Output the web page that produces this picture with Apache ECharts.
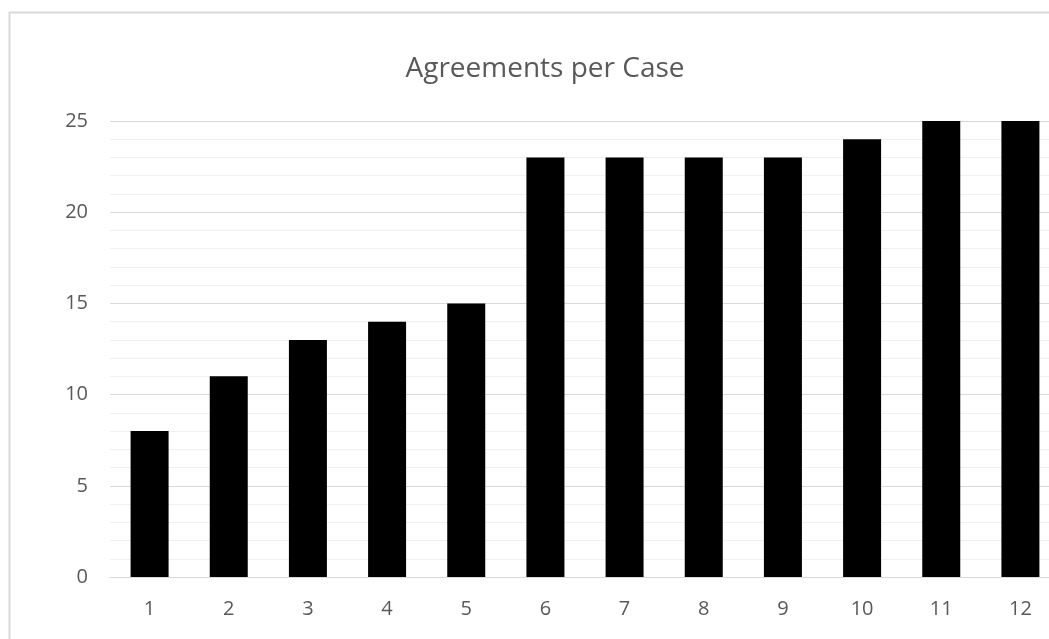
<!DOCTYPE html>
<html><head><meta charset="utf-8">
<script src="https://cdn.jsdelivr.net/npm/echarts@6/dist/echarts.min.js"></script>
<style>html,body{margin:0;padding:0;background:#fff;overflow:hidden}#c{width:1060px;height:639px}</style>
</head><body><div id="c"></div>
<script>
const titleText = "Agreements per Case";
const categories = ["1","2","3","4","5","6","7","8","9","10","11","12"];
const agreements = [8, 11, 13, 14, 15, 23, 23, 23, 23, 24, 25, 25];
const yTicks = [0, 5, 10, 15, 20, 25];

const chart = echarts.init(document.getElementById('c'), null, {renderer: 'canvas'});
const font = "'Open Sans', 'Noto Sans', sans-serif";
chart.setOption({
  animation: false,
  backgroundColor: '#fff',
  graphic: [{
    type: 'rect', silent: true, z: -1,
    shape: {x: 9.5, y: 12.5, width: 1200, height: 800},
    style: {fill: 'none', stroke: '#d9d9d9', lineWidth: 2}
  }],
  title: {
    text: titleText, left: 540, top: 50, textAlign: 'center',
    textStyle: {fontFamily: font, fontSize: 28, fontWeight: 'normal', color: '#595959'}
  },
  grid: {left: 110, right: 0, top: 121, height: 456, containLabel: false},
  xAxis: {
    type: 'category', data: categories,
    axisLine: {lineStyle: {color: '#d9d9d9', width: 1}},
    axisTick: {show: false},
    axisLabel: {fontFamily: font, fontSize: 20, color: '#595959', margin: 22}
  },
  yAxis: {
    type: 'value', min: yTicks[0], max: yTicks[yTicks.length - 1], interval: 5,
    axisLine: {show: false}, axisTick: {show: false},
    axisLabel: {fontFamily: font, fontSize: 20, color: '#595959', margin: 22},
    splitLine: {lineStyle: {color: '#d9d9d9', width: 1}},
    minorTick: {show: false, splitNumber: 5},
    minorSplitLine: {show: true, lineStyle: {color: '#f0f0f0', width: 1}}
  },
  series: [{
    type: 'bar', data: agreements, barWidth: 38,
    itemStyle: {color: '#000000'}
  }]
});
</script></body></html>
